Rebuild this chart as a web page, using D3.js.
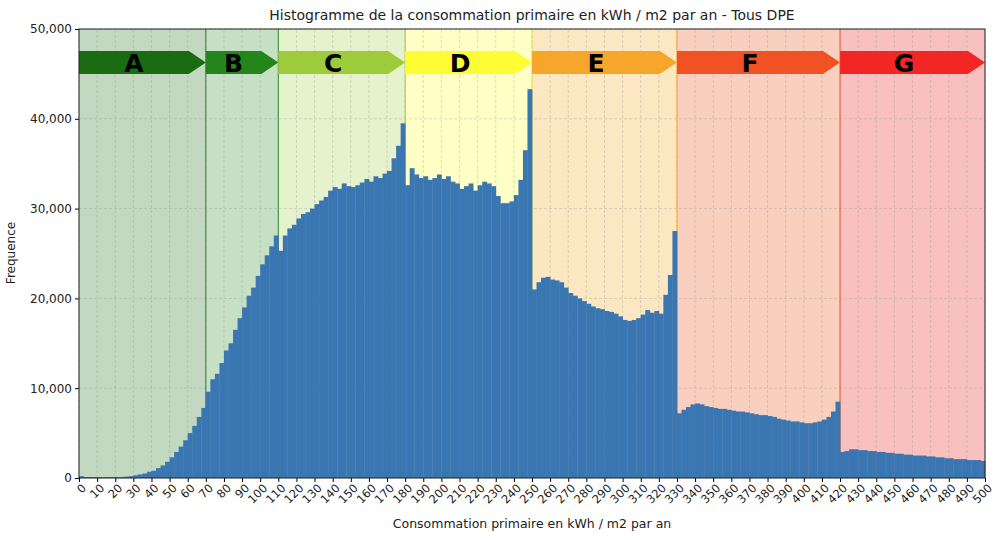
<!DOCTYPE html>
<html><head><meta charset="utf-8">
<script src="https://cdn.jsdelivr.net/npm/d3@7"></script>
<style>body{margin:0;background:#fff}text{font-family:"DejaVu Sans",sans-serif}</style>
</head><body><svg id="c" width="1000" height="540"></svg>
<script>
// histogram, bins of 2.5 kWh, counts in thousands
var binWidth = 2.5;
var counts = [
 0.2,0.1,0.1,0.1,0.1,0.1,0.1,0.1,0.1,0.1,
 0.15,0.2,0.3,0.4,0.5,0.7,0.8,1.1,1.4,1.8,
 2.3,2.9,3.5,4.2,5.0,5.8,6.8,7.8,9.6,11.0,
 11.6,12.8,14.2,15.0,16.5,17.8,19.0,20.3,21.2,22.5,
 23.8,24.8,25.8,27.0,25.3,27.0,27.8,28.2,28.9,29.4,
 29.6,30.0,30.5,30.9,31.3,32.0,32.4,32.2,32.8,32.5,
 32.4,32.6,32.9,33.3,33.0,33.6,33.4,33.9,34.2,35.6,
 37.0,39.5,32.6,34.5,33.8,33.4,33.6,33.2,33.4,33.8,
 33.3,33.6,33.0,32.8,32.2,32.5,32.8,32.0,32.6,33.0,
 32.8,32.5,31.4,30.6,30.6,30.8,31.5,33.2,36.5,43.3,
 21.0,21.8,22.3,22.4,22.1,22.0,21.8,21.2,20.6,20.3,
 20.0,19.7,19.4,19.1,18.9,18.8,18.6,18.5,18.3,18.0,
 17.6,17.5,17.6,17.8,18.2,18.7,18.4,18.6,18.3,20.4,
 22.6,27.5,7.2,7.6,7.9,8.2,8.3,8.2,8.0,7.9,
 7.8,7.7,7.7,7.6,7.5,7.4,7.4,7.3,7.2,7.1,
 7.0,7.0,6.9,6.8,6.6,6.5,6.4,6.3,6.3,6.2,
 6.1,6.1,6.2,6.3,6.5,6.8,7.4,8.5,2.9,3.0,
 3.2,3.2,3.1,3.1,3.0,3.0,2.9,2.9,2.8,2.8,
 2.7,2.7,2.6,2.6,2.5,2.5,2.5,2.4,2.4,2.3,
 2.3,2.2,2.2,2.1,2.1,2.1,2.0,2.0,2.0,1.9
];
var classes = ["A","B","C","D","E","F","G"];
var classStart = [0,70,110,180,250,330,420];
var classEnd = [70,110,180,250,330,420,500];
var arrowColors = ["#1a6b12","#24861a","#9ecb3c","#fdfc35","#f5a62b","#f15223","#f22624"];
var bandColors = ["#c2d8c0","#c5e0c4","#e6f2cc","#ffffc6","#fce7c3","#f9cfc0","#f9c0c0"];
var lineColors = ["#2f7a2a","#2f8a2a","#9ecb3c","#e8e83a","#f5a62b","#f15223","#f04040"];
var yTicks = [0,10000,20000,30000,40000,50000];

var svg = d3.select("#c");
var x = d3.scaleLinear().domain([0,500]).range([79,985]);
var y = d3.scaleLinear().domain([0,50000]).range([478,29]);

// bands
svg.selectAll(".band").data(classes).enter().append("rect")
    .attr("x",function(d,i){return x(classStart[i]);})
    .attr("width",function(d,i){return x(classEnd[i])-x(classStart[i]);})
    .attr("y",y(50000)).attr("height",y(0)-y(50000))
    .attr("fill",function(d,i){return bandColors[i];});

// grid
svg.append("g").selectAll("line").data(d3.range(0,501,10)).enter().append("line")
    .attr("x1",function(d){return x(d);}).attr("x2",function(d){return x(d);})
    .attr("y1",y(0)).attr("y2",y(50000))
    .attr("stroke","#999").attr("stroke-opacity",0.45).attr("stroke-dasharray","3,2").attr("stroke-width",0.8);
svg.append("g").selectAll("line").data(yTicks).enter().append("line")
    .attr("x1",x(0)).attr("x2",x(500))
    .attr("y1",function(d){return y(d);}).attr("y2",function(d){return y(d);})
    .attr("stroke","#999").attr("stroke-opacity",0.45).attr("stroke-dasharray","3,2").attr("stroke-width",0.8);

// boundaries
svg.selectAll(".bnd").data(classStart.slice(1)).enter().append("line")
    .attr("x1",function(d){return x(d);}).attr("x2",function(d){return x(d);})
    .attr("y1",y(0)).attr("y2",y(50000))
    .attr("stroke",function(d,i){return lineColors[i];}).attr("stroke-width",1);

// histogram
svg.append("g").selectAll("rect").data(counts).enter().append("rect")
    .attr("x",function(d,i){return x(i*binWidth);})
    .attr("width",x(binWidth)-x(0)+0.4)
    .attr("y",function(d){return y(d*1000);})
    .attr("height",function(d){return y(0)-y(d*1000);})
    .attr("fill","#3a76b1");

// arrows
var ay0 = 51, ay1 = 74;
svg.selectAll(".arrow").data(classes).enter().append("path")
    .attr("d",function(d,i){
        var a=x(classStart[i]), b=x(classEnd[i]), t=b-17;
        return "M"+a+","+ay0+"L"+t+","+ay0+"L"+b+","+((ay0+ay1)/2)+"L"+t+","+ay1+"L"+a+","+ay1+"Z";
    })
    .attr("fill",function(d,i){return arrowColors[i];});
svg.selectAll(".lbl").data(classes).enter().append("text")
    .attr("x",function(d,i){return (x(classStart[i])+x(classEnd[i])-17)/2;})
    .attr("y",72).attr("text-anchor","middle")
    .style("font-weight","bold").style("font-size","25px").attr("fill","#000")
    .text(function(d){return d;});

// axes
var xa = svg.append("g").attr("transform","translate(0,"+y(0)+")")
    .call(d3.axisBottom(x).tickValues(d3.range(0,501,10)).tickSize(4).tickPadding(2));
xa.selectAll("text").attr("text-anchor","end").attr("dx","-0.2em").attr("dy","0.6em")
    .attr("transform","rotate(-45)").style("font-size","11.5px").attr("fill","#222");
var ya = svg.append("g").attr("transform","translate("+x(0)+",0)")
    .call(d3.axisLeft(y).tickValues(yTicks).tickFormat(d3.format(",")).tickSize(4));
ya.selectAll("text").style("font-size","12px").attr("fill","#222");
svg.selectAll(".domain").remove();
svg.append("rect").attr("x",x(0)).attr("y",y(50000)).attr("width",x(500)-x(0)).attr("height",y(0)-y(50000))
    .attr("fill","none").attr("stroke","#222").attr("stroke-width",1);

svg.append("text").attr("x",532).attr("y",20).attr("text-anchor","middle").style("font-size","14px").attr("fill","#222")
    .text("Histogramme de la consommation primaire en kWh / m2 par an - Tous DPE");
svg.append("text").attr("x",532).attr("y",528).attr("text-anchor","middle").style("font-size","12.5px").attr("fill","#222")
    .text("Consommation primaire en kWh / m2 par an");
svg.append("text").attr("transform","translate(15,253) rotate(-90)").attr("text-anchor","middle").style("font-size","12px").attr("fill","#222")
    .text("Frequence");
</script></body></html>
